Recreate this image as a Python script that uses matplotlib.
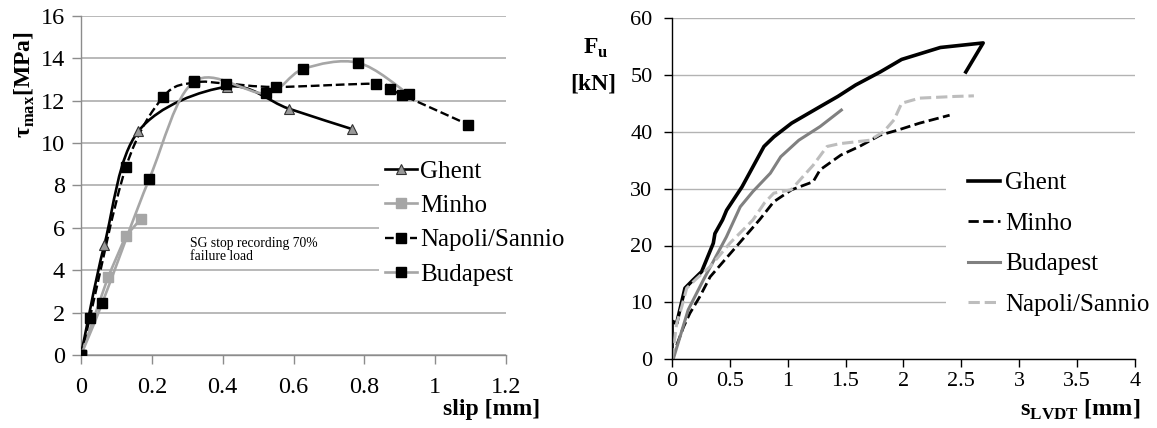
import numpy as np
import matplotlib
matplotlib.use("Agg")
import matplotlib.pyplot as plt
from matplotlib.path import Path
from matplotlib.patches import PathPatch
from matplotlib.lines import Line2D

plt.rcParams['font.family'] = ['Liberation Serif', 'DejaVu Serif']
plt.rcParams['mathtext.fontset'] = 'custom'
plt.rcParams['mathtext.rm'] = 'Liberation Serif'
plt.rcParams['mathtext.bf'] = 'Liberation Serif:bold'

# left chart: bond stress vs slip
ghent_slip = [0, 0.066, 0.162, 0.411, 0.586, 0.764]
ghent_tau = [0, 5.2, 10.55, 12.65, 11.62, 10.66]

minho_slip = [0, 0.077, 0.126, 0.168]
minho_tau = [0, 3.7, 5.6, 6.4]

napoli_slip = [0, 0.025, 0.127, 0.232, 0.32, 0.41, 0.55, 0.832, 0.872, 0.905, 1.094]
napoli_tau = [0, 1.75, 8.87, 12.17, 12.85, 12.8, 12.64, 12.79, 12.52, 12.28, 10.86]

budapest_slip = [0, 0.06, 0.193, 0.32, 0.522, 0.628, 0.783, 0.925]
budapest_tau = [0, 2.45, 8.31, 12.9, 12.34, 13.49, 13.78, 12.3]

# right chart: load vs LVDT slip
ghent_s = [0, 0, 0.04, 0.112, 0.18, 0.256, 0.357, 0.371, 0.437, 0.472, 0.605, 0.795,
           0.881, 1.034, 1.28, 1.434, 1.587, 1.80, 1.985, 2.32, 2.69, 2.54]
ghent_f = [0, 6.7, 6.3, 12.5, 13.9, 15.4, 20.4, 22.1, 24.5, 26.2, 30.3, 37.4,
           39.1, 41.5, 44.4, 46.2, 48.2, 50.5, 52.7, 54.8, 55.6, 50.5]

minho_s = [0, 0.05, 0.1, 0.155, 0.24, 0.33, 0.53, 0.76, 0.88, 1.035, 1.22, 1.28,
           1.46, 1.62, 1.80, 1.955, 2.14, 2.40]
minho_f = [0, 3, 5.7, 8.1, 11, 14.5, 19.2, 24.6, 27.7, 29.8, 31.2, 33.3,
           35.9, 37.4, 39.4, 40.3, 41.5, 42.9]

budapest_s = [0.01, 0.07, 0.14, 0.27, 0.47, 0.59, 0.70, 0.85, 0.94, 1.096, 1.28, 1.464]
budapest_f = [0, 4, 8.7, 13.9, 21.5, 26.8, 29.5, 32.7, 35.6, 38.5, 40.9, 43.8]

napoli_s = [0, 0.04, 0.084, 0.127, 0.213, 0.33, 0.50, 0.70, 0.80, 0.88, 1.03, 1.22,
            1.34, 1.45, 1.71, 1.83, 1.92, 1.985, 2.14, 2.45, 2.61]
napoli_f = [0, 6.3, 9.2, 12.5, 14.2, 16.3, 20.4, 24.5, 27.5, 29.2, 29.8, 34.1,
            37.4, 37.9, 38.5, 40, 42.1, 45, 45.9, 46.2, 46.3]

LGRAY = '#a6a6a6'
MGRAY = '#808080'
NGRAY = '#bdbdbd'


def smooth_path(xs, ys):
    # excel style smoothed line -> cubic bezier segments
    pts = np.column_stack([xs, ys]).astype(float)
    n = len(pts)
    verts = [pts[0]]
    codes = [Path.MOVETO]
    for i in range(n - 1):
        p0 = pts[max(i - 1, 0)]
        p1 = pts[i]
        p2 = pts[i + 1]
        p3 = pts[min(i + 2, n - 1)]
        verts += [p1 + (p2 - p0) / 6, p2 - (p3 - p1) / 6, p2]
        codes += [Path.CURVE4] * 3
    return Path(verts, codes)


fig = plt.figure(figsize=(11.57, 4.28), dpi=100)
W, H = 1157, 428

# ---------------- left ----------------
ax1 = fig.add_axes([81 / W, 1 - 355 / H, (506 - 81) / W, (355 - 15.7) / H])
ax1.set_xlim(0, 1.2)
ax1.set_ylim(0, 16)
ax1.set_xticks(np.arange(0, 1.21, 0.2))
ax1.set_xticklabels(['0', '0.2', '0.4', '0.6', '0.8', '1', '1.2'])
ax1.set_yticks(range(0, 17, 2))
ax1.yaxis.grid(True, color='#a6a6a6', lw=1.1)
ax1.set_axisbelow(True)
for s in ['top', 'right']:
    ax1.spines[s].set_visible(False)
for s in ['left', 'bottom']:
    ax1.spines[s].set_color('#8c8c8c')
    ax1.spines[s].set_linewidth(1.0)
ax1.tick_params(axis='both', colors='#8c8c8c', labelcolor='black', labelsize=17.5,
                length=6.5, width=1.0)
ax1.tick_params(axis='x', pad=9)
ax1.tick_params(axis='y', pad=5)

ax1.add_patch(PathPatch(smooth_path(ghent_slip, ghent_tau), fill=False,
                        ec='black', lw=1.9, zorder=3))
ax1.plot(minho_slip, minho_tau, color=LGRAY, lw=1.9, zorder=3)
ax1.add_patch(PathPatch(smooth_path(napoli_slip, napoli_tau), fill=False,
                        ec='black', lw=1.7, ls='--', zorder=4))
ax1.add_patch(PathPatch(smooth_path(budapest_slip, budapest_tau), fill=False,
                        ec=LGRAY, lw=1.9, zorder=5))

ax1.plot(ghent_slip, ghent_tau, ls='none', marker='^', ms=7.5, mfc='#999999',
         mec='#333333', mew=0.8, zorder=6)
ax1.plot(minho_slip, minho_tau, ls='none', marker='s', ms=7.5, mfc=LGRAY,
         mec=LGRAY, zorder=6)
ax1.plot(napoli_slip, napoli_tau, ls='none', marker='s', ms=7.5, mfc='black',
         mec='black', zorder=6)
ax1.plot(budapest_slip, budapest_tau, ls='none', marker='s', ms=7.5, mfc='black',
         mec='black', zorder=7)

ax1.text(0.308, 5.55, 'SG stop recording 70%\nfailure load', fontsize=9.8,
         va='top', ha='left', linespacing=1.0)

h1 = [Line2D([], [], color='black', lw=1.9, marker='^', ms=7.5, mfc='#999999', mec='#333333', mew=0.8),
      Line2D([], [], color=LGRAY, lw=1.9, marker='s', ms=7.5, mfc=LGRAY, mec=LGRAY),
      Line2D([], [], color='black', lw=1.7, ls='--', marker='s', ms=7.5, mfc='black', mec='black'),
      Line2D([], [], color=LGRAY, lw=1.9, marker='s', ms=7.5, mfc='black', mec='black')]
ax1.legend(h1, ['Ghent', 'Minho', 'Napoli/Sannio', 'Budapest'],
           loc='upper left', bbox_to_anchor=(379 / W, 1 - 154 / H),
           bbox_transform=fig.transFigure, fontsize=18, borderpad=0.25,
           labelspacing=0.47, handlelength=1.28, handletextpad=0.12,
           numpoints=1, frameon=True, fancybox=False, framealpha=1,
           facecolor='white', edgecolor='none', borderaxespad=0)

fig.text(540 / W, 1 - 410 / H, 'slip [mm]', ha='right', va='center',
         fontsize=17, fontweight='bold')
fig.text(25 / W, 1 - 85 / H, r'τ$_{\mathbf{max}}$[MPa]', rotation=90, ha='center',
         va='center', fontsize=17, fontweight='bold')

# ---------------- right ----------------
ax2 = fig.add_axes([672 / W, 1 - 359.3 / H, (1134.7 - 672) / W, (359.3 - 17.9) / H])
ax2.set_xlim(0, 4)
ax2.set_ylim(0, 60)
ax2.set_xticks(np.arange(0, 4.01, 0.5))
ax2.set_xticklabels(['0', '0.5', '1', '1.5', '2', '2.5', '3', '3.5', '4'])
ax2.set_yticks(range(0, 61, 10))
ax2.yaxis.grid(True, color='#b3b3b3', lw=1.0)
ax2.set_axisbelow(True)
for s in ['top', 'right']:
    ax2.spines[s].set_visible(False)
for s in ['left', 'bottom']:
    ax2.spines[s].set_color('black')
    ax2.spines[s].set_linewidth(1.0)
ax2.tick_params(axis='both', labelsize=16, length=6, width=1.0)
ax2.tick_params(axis='x', pad=3)
ax2.tick_params(axis='y', pad=8)

ax2.plot(ghent_s, ghent_f, color='black', lw=2.6, solid_joinstyle='round', label='Ghent')
ax2.plot(minho_s, minho_f, color='black', lw=2.0, ls='--', label='Minho')
ax2.plot(budapest_s, budapest_f, color=MGRAY, lw=2.2, label='Budapest')
ax2.plot(napoli_s, napoli_f, color=NGRAY, lw=2.2, ls='--', label='Napoli/Sannio')

ax2.legend(loc='upper left', bbox_to_anchor=(946 / W, 1 - 150 / H),
           bbox_transform=fig.transFigure, fontsize=18, borderpad=0.87,
           labelspacing=0.72, handlelength=1.3, handletextpad=0.2,
           frameon=True, fancybox=False, framealpha=1, facecolor='white',
           edgecolor='none', borderaxespad=0)

fig.text(1140 / W, 1 - 410 / H, r's$_{\mathbf{LVDT}}$ [mm]', ha='right', va='center',
         fontsize=17.5, fontweight='bold')
fig.text(608 / W, 1 - 48 / H, r'F$_{\mathbf{u}}$', ha='right', va='center',
         fontsize=17, fontweight='bold')
fig.text(616 / W, 1 - 84 / H, '[kN]', ha='right', va='center',
         fontsize=17, fontweight='bold')

fig.savefig('out.png', dpi=100)
